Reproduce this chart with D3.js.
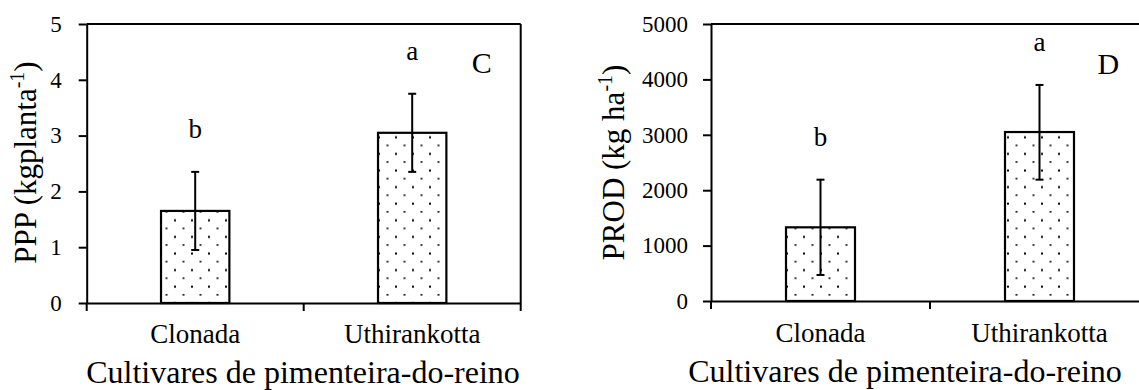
<!DOCTYPE html>
<html><head><meta charset="utf-8">
<script src="https://cdn.jsdelivr.net/npm/d3@7"></script>
<style>
html,body{margin:0;padding:0;background:#fff;overflow:hidden}
svg{display:block}
svg text{font-family:"Liberation Serif","Times New Roman",serif !important;fill:#000}
</style></head><body>
<svg id="chart" width="1139" height="390"></svg>
<script>
// ---- data ----
const categories = ["Clonada", "Uthirankotta"];
const pppValues = [1.65, 3.05];
const pppLow = [0.95, 2.35];
const pppHigh = [2.35, 3.75];
const pppLetters = ["b", "a"];
const pppTicks = [0, 1, 2, 3, 4, 5];

const prodValues = [1330, 3050];
const prodLow = [470, 2190];
const prodHigh = [2190, 3900];
const prodLetters = ["b", "a"];
const prodTicks = [0, 1000, 2000, 3000, 4000, 5000];

const xTitle = "Cultivares de pimenteira-do-reino";

const svg = d3.select("#chart");
const defs = svg.append("defs");
const pat = defs.append("pattern").attr("id", "dots")
  .attr("patternUnits", "userSpaceOnUse").attr("width", 17).attr("height", 16.6);
pat.append("rect").attr("width", 17).attr("height", 16.6).attr("fill", "#fff");
pat.append("rect").attr("x", 4).attr("y", 3.5).attr("width", 2).attr("height", 2).attr("fill", "#000");
pat.append("rect").attr("x", 12.5).attr("y", 11.8).attr("width", 2).attr("height", 1.6).attr("fill", "#111");

function panel(cfg) {
  const g = svg.append("g");
  const x = d3.scaleBand().domain(categories).range([cfg.x0, cfg.x1]).paddingInner(0).paddingOuter(0);
  const xb = d3.scaleBand().domain(categories).range([cfg.x0, cfg.x1]).paddingInner(0.685).paddingOuter(0.3425);
  const y = d3.scaleLinear().domain([cfg.ticks[0], cfg.ticks[cfg.ticks.length - 1]]).range([cfg.yb, cfg.yt]);

  // frame: top and right
  g.append("line").attr("x1", cfg.x0).attr("x2", cfg.x1).attr("y1", y.range()[1]).attr("y2", y.range()[1])
    .attr("stroke", "#000").attr("stroke-width", 2);
  g.append("line").attr("x1", cfg.x1).attr("x2", cfg.x1).attr("y1", y.range()[1]).attr("y2", y.range()[0])
    .attr("stroke", "#000").attr("stroke-width", 2);

  // bars
  const data = categories.map((c, i) => ({c, v: cfg.values[i], lo: cfg.low[i], hi: cfg.high[i], l: cfg.letters[i]}));
  g.selectAll("rect.bar").data(data).join("rect").attr("class", "bar")
    .attr("x", d => xb(d.c)).attr("width", xb.bandwidth())
    .attr("y", d => y(d.v)).attr("height", d => y(0) - y(d.v))
    .attr("fill", "url(#dots)").attr("stroke", "#000").attr("stroke-width", 2.2);

  // error bars
  const cx = d => xb(d.c) + xb.bandwidth() / 2;
  const eb = g.selectAll("g.err").data(data).join("g").attr("class", "err")
    .attr("stroke", "#000").attr("stroke-width", 2);
  eb.append("line").attr("x1", cx).attr("x2", cx).attr("y1", d => y(d.lo)).attr("y2", d => y(d.hi));
  eb.append("line").attr("x1", d => cx(d) - 4).attr("x2", d => cx(d) + 4).attr("y1", d => y(d.hi)).attr("y2", d => y(d.hi));
  eb.append("line").attr("x1", d => cx(d) - 4).attr("x2", d => cx(d) + 4).attr("y1", d => y(d.lo)).attr("y2", d => y(d.lo));

  // significance letters
  g.selectAll("text.let").data(data).join("text").attr("class", "let")
    .attr("x", cx).attr("y", d => y(d.hi) - 34)
    .attr("text-anchor", "middle").attr("font-size", 27).text(d => d.l);

  // y axis
  const ya = g.append("g").attr("transform", `translate(${cfg.x0},0)`)
    .call(d3.axisLeft(y).tickValues(cfg.ticks).tickSize(8).tickSizeOuter(0).tickPadding(cfg.tickPad).tickFormat(d3.format("d")));
  ya.select(".domain").attr("stroke-width", 2);
  ya.selectAll(".tick line").attr("stroke-width", 2);
  ya.selectAll("text").attr("font-size", 23);

  // x axis
  const xa = g.append("g").attr("transform", `translate(0,${y(0)})`)
    .call(d3.axisBottom(x).tickSize(0).tickSizeOuter(0));
  xa.select(".domain").attr("stroke-width", 2);
  xa.selectAll("text").attr("font-size", 27).attr("dy", null).attr("y", cfg.catY);
  const bounds = [cfg.x0].concat(categories.map(c => x(c) + x.bandwidth()));
  xa.selectAll("line.bt").data(bounds).join("line").attr("class", "bt")
    .attr("x1", d => d).attr("x2", d => d).attr("y1", 0).attr("y2", 8)
    .attr("stroke", "#000").attr("stroke-width", 2);

  // axis titles
  g.append("text").attr("x", cfg.titleX).attr("y", cfg.titleY).attr("text-anchor", "middle")
    .attr("font-size", 32).text(xTitle);
  const yt = g.append("text").attr("transform", `translate(${cfg.ytX},${cfg.ytY}) rotate(-90)`)
    .attr("text-anchor", "middle").attr("font-size", 31);
  yt.append("tspan").text(cfg.yLabel);
  yt.append("tspan").attr("font-size", 20).attr("dy", -12).text("-1");
  yt.append("tspan").attr("dy", 12).text(")");

  // panel letter
  g.append("text").attr("x", cfg.panelX).attr("y", cfg.panelY).attr("text-anchor", "middle")
    .attr("font-size", 30).text(cfg.panel);
}

panel({x0: 86.7, x1: 520.7, yb: 303, yt: 24, ticks: pppTicks, values: pppValues, low: pppLow, high: pppHigh,
  letters: pppLetters, tickPad: 17, catY: 40, titleX: 303, titleY: 383, ytX: 36, ytY: 162.5,
  yLabel: "PPP (kgplanta", panel: "C", panelX: 481.7, panelY: 72.7});
panel({x0: 711, x1: 1149, yb: 301, yt: 24, ticks: prodTicks, values: prodValues, low: prodLow, high: prodHigh,
  letters: prodLetters, tickPad: 15, catY: 41, titleX: 905, titleY: 382, ytX: 624, ytY: 162.5,
  yLabel: "PROD (kg ha", panel: "D", panelX: 1108.3, panelY: 74});
</script>
</body></html>
